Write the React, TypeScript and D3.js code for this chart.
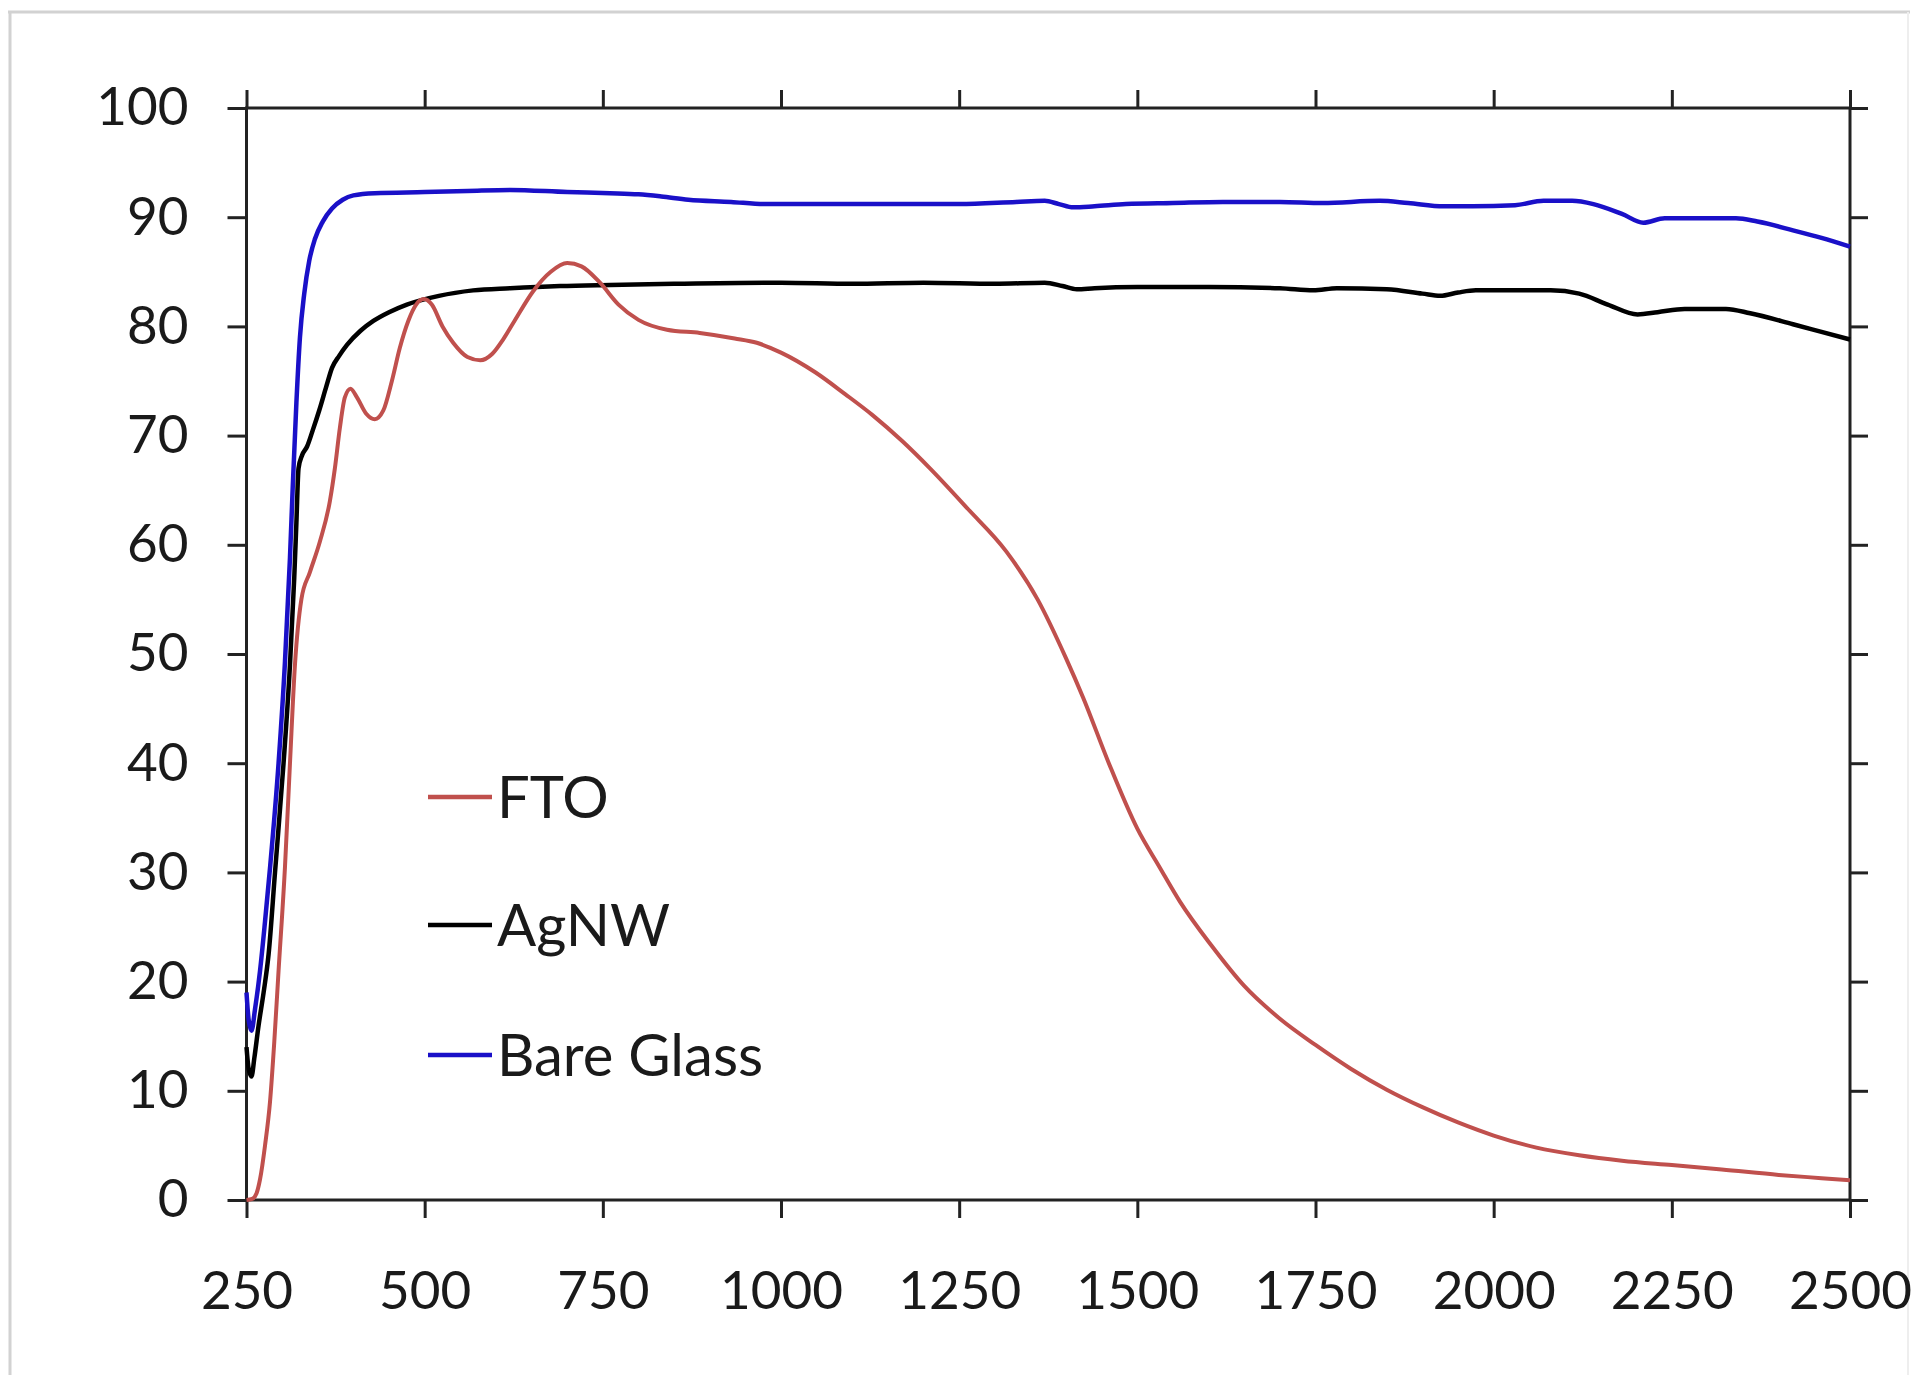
import * as d3 from "d3";
import { useEffect, useRef } from "react";

// transmittance (%) vs wavelength (nm)
const ftoPoints: [number, number][] = [
  [250, 0], [258, 0.1], [264, 0.6], [269, 1.9], [276, 5], [283, 9], [289, 14.5],
  [295, 21], [304, 30.5], [311, 40], [318, 49], [327, 55], [339, 57.5],
  [353, 60.3], [367, 64], [374, 67], [381, 70.7], [388, 73.5], [396, 74.3],
  [405, 73.5], [418, 72], [430, 71.5], [442, 72.3], [454, 75], [465, 78],
  [477, 80.5], [488, 82], [499, 82.5], [510, 82], [525, 80], [540, 78.5],
  [560, 77.2], [578, 76.9], [595, 77.5], [610, 78.8], [626, 80.5], [652, 83.2],
  [677, 85], [700, 85.8], [720, 85.5], [746, 84], [772, 82], [800, 80.6],
  [840, 79.7], [886, 79.4], [935, 78.9], [966, 78.5], [1000, 77.6],
  [1048, 75.8], [1090, 73.8], [1128, 71.9], [1170, 69.5], [1209, 67],
  [1262, 63.3], [1316, 59.4], [1360, 55], [1400, 49.6], [1424, 46],
  [1460, 40], [1500, 34], [1531, 30.5], [1560, 27.3], [1604, 23.3],
  [1650, 19.6], [1700, 16.6], [1750, 14.2], [1800, 12], [1850, 10.1],
  [1900, 8.5], [1950, 7.1], [2000, 5.9], [2060, 4.8], [2120, 4.1], [2180, 3.6],
  [2250, 3.2], [2320, 2.8], [2400, 2.3], [2460, 2], [2500, 1.8],
];

const agnwPoints: [number, number][] = [
  [250, 14], [253, 12], [257, 11.3], [261, 13], [267, 16], [274, 19],
  [281, 22.5], [290, 30], [302, 40], [311, 49], [317, 57], [320, 62],
  [323, 67], [328, 68.2], [335, 69], [343, 70.5], [352, 72.3], [362, 74.5],
  [370, 76.2], [380, 77.3], [391, 78.3], [410, 79.6], [428, 80.5], [450, 81.3],
  [475, 82], [520, 82.8], [568, 83.3], [620, 83.5], [690, 83.7], [760, 83.8],
  [850, 83.9], [1000, 84], [1100, 83.9], [1200, 84], [1300, 83.9], [1370, 84],
  [1395, 83.7], [1415, 83.4], [1440, 83.5], [1500, 83.6], [1600, 83.6],
  [1700, 83.5], [1747, 83.3], [1780, 83.5], [1850, 83.4], [1900, 83],
  [1925, 82.8], [1950, 83.1], [1975, 83.3], [2080, 83.3], [2120, 83],
  [2160, 82], [2202, 81.1], [2230, 81.3], [2268, 81.6], [2326, 81.6],
  [2360, 81.2], [2420, 80.2], [2460, 79.5], [2500, 78.8],
];

const glassPoints: [number, number][] = [
  [250, 19], [253, 16.5], [257, 15.5], [262, 17.5], [269, 21], [276, 25.5],
  [283, 30.4], [295, 40], [304, 49.3], [311, 58.8], [315, 65.5], [320, 73],
  [325, 79], [331, 83], [338, 86], [346, 88], [357, 89.6], [370, 90.8],
  [385, 91.6], [400, 92], [430, 92.2], [500, 92.3], [560, 92.4], [620, 92.5],
  [700, 92.3], [760, 92.2], [800, 92.1], [832, 91.9], [870, 91.6], [930, 91.4],
  [976, 91.2], [1100, 91.2], [1250, 91.2], [1330, 91.4], [1370, 91.5],
  [1390, 91.2], [1410, 90.9], [1440, 91], [1484, 91.2], [1550, 91.3],
  [1620, 91.4], [1700, 91.4], [1760, 91.3], [1840, 91.5], [1880, 91.3],
  [1930, 91], [1970, 91], [2030, 91.1], [2070, 91.5], [2110, 91.5],
  [2140, 91.2], [2180, 90.3], [2210, 89.5], [2240, 89.9], [2280, 89.9],
  [2340, 89.9], [2370, 89.6], [2420, 88.8], [2460, 88.1], [2500, 87.3],
];

const xTicks = [250, 500, 750, 1000, 1250, 1500, 1750, 2000, 2250, 2500];
const yTicks = [0, 10, 20, 30, 40, 50, 60, 70, 80, 90, 100];

const seriesNames = ["FTO", "AgNW", "Bare Glass"];
const seriesColors = ["#c0504d", "#000000", "#1a10c8"];
const seriesWidths = [4, 4.5, 4.5];
const seriesData = [ftoPoints, agnwPoints, glassPoints];

export default function App() {
  const svgRef = useRef<SVGSVGElement | null>(null);

  useEffect(() => {
    if (!svgRef.current) return;
    const root = d3.select(svgRef.current);
    root.selectAll("*").remove();

    const W = 1919;
    const H = 1375;
    const left = 246.5, right = 1850, top = 108, bottom = 1200;

    root.append("rect").attr("width", W).attr("height", H).attr("fill", "#fff");

    // outer picture frame (light grey)
    root.append("line").attr("x1", 8).attr("x2", 1910).attr("y1", 12).attr("y2", 12)
      .attr("stroke", "#d2d2d2").attr("stroke-width", 3);
    root.append("line").attr("x1", 10).attr("x2", 10).attr("y1", 12).attr("y2", H)
      .attr("stroke", "#d2d2d2").attr("stroke-width", 3);
    root.append("line").attr("x1", 1908).attr("x2", 1908).attr("y1", 12).attr("y2", H)
      .attr("stroke", "#eeeeee").attr("stroke-width", 2);

    const x = d3.scaleLinear().domain([250, 2500]).range([left, right]);
    const y = d3.scaleLinear().domain([0, 100]).range([bottom, top]);

    const font = "Lato, 'Open Sans', sans-serif";
    const axisColor = "#222";

    const styleAxis = (g: any) => {
      g.select(".domain").remove();
      g.selectAll(".tick line").attr("stroke", axisColor).attr("stroke-width", 3);
      g.selectAll(".tick text")
        .attr("fill", "#1a1a1a")
        .style("font-family", font)
        .style("font-size", "53px");
    };

    root.append("g")
      .attr("transform", `translate(0,${bottom})`)
      .call(d3.axisBottom(x).tickValues(xTicks).tickSize(18).tickPadding(53).tickFormat(d3.format("d")))
      .call(styleAxis);

    root.append("g")
      .attr("transform", `translate(0,${top})`)
      .call(d3.axisTop(x).tickValues(xTicks).tickSize(18).tickFormat(() => ""))
      .call(styleAxis);

    root.append("g")
      .attr("transform", `translate(${left},0)`)
      .call(d3.axisLeft(y).tickValues(yTicks).tickSize(19).tickPadding(39).tickFormat(d3.format("d")))
      .call(styleAxis);

    root.append("g")
      .attr("transform", `translate(${right},0)`)
      .call(d3.axisRight(y).tickValues(yTicks).tickSize(18).tickFormat(() => ""))
      .call(styleAxis);

    // plot box
    root.append("rect")
      .attr("x", left).attr("y", top)
      .attr("width", right - left).attr("height", bottom - top)
      .attr("fill", "none").attr("stroke", axisColor).attr("stroke-width", 3);

    const line = d3.line<[number, number]>()
      .x((d) => x(d[0]))
      .y((d) => y(d[1]))
      .curve(d3.curveMonotoneX);

    // glass first, FTO on top like the original
    [2, 1, 0].forEach((i) => {
      root.append("path")
        .datum(seriesData[i])
        .attr("d", line)
        .attr("fill", "none")
        .attr("stroke", seriesColors[i])
        .attr("stroke-width", seriesWidths[i])
        .attr("stroke-linejoin", "round");
    });

    // legend
    const legendY = [797, 925, 1055];
    seriesNames.forEach((name, i) => {
      root.append("line")
        .attr("x1", 428).attr("x2", 492)
        .attr("y1", legendY[i]).attr("y2", legendY[i])
        .attr("stroke", seriesColors[i])
        .attr("stroke-width", 4.5);
      root.append("text")
        .attr("x", 497)
        .attr("y", legendY[i])
        .attr("dy", "0.36em")
        .attr("fill", "#1a1a1a")
        .style("font-family", font)
        .style("font-size", "58px")
        .text(name);
    });
  }, []);

  return (
    <div style={{ position: "absolute", left: 0, top: 0 }}>
      <svg ref={svgRef} width={1919} height={1375} style={{ display: "block" }} />
    </div>
  );
}
